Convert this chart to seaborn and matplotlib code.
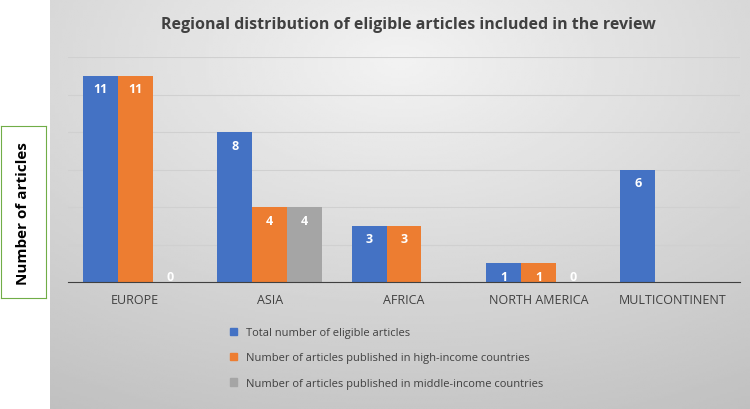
import numpy as np
import pandas as pd
import matplotlib
matplotlib.use('Agg')
import matplotlib.pyplot as plt
import seaborn as sns

regions = ['EUROPE', 'ASIA', 'AFRICA', 'NORTH AMERICA', 'MULTICONTINENT']
series = ['Total number of eligible articles',
          'Number of articles published in high-income countries',
          'Number of articles published in middle-income countries']
total = [11, 8, 3, 1, 6]
high = [11, 4, 3, 1, np.nan]
middle = [0, 4, np.nan, 0, np.nan]
colors = ['#4472c4', '#ed7d31', '#a5a5a5']

df = pd.DataFrame({
    'region': regions * 3,
    'series': sum([[s] * 5 for s in series], []),
    'value': total + high + middle,
})

plt.rcParams['font.family'] = 'Open Sans'
fig = plt.figure(figsize=(7.5, 4.1), dpi=100)

# gray gradient panel
bg = fig.add_axes([50 / 750, 0, 700 / 750, 1])
yy, xx = np.mgrid[0:1:200j, 0:1:200j]
d = np.sqrt((xx - 0.5) ** 2 + (yy - 0.15) ** 2)
bg.imshow(0.95 - 0.2 * d, cmap='gray', vmin=0, vmax=1, aspect='auto', extent=[0, 1, 0, 1])
bg.set_axis_off()

ax = fig.add_axes([68 / 750, 127 / 410, 672 / 750, 225 / 410])
ax.patch.set_alpha(0)
sns.barplot(data=df, x='region', y='value', hue='series', palette=colors,
            saturation=1, width=0.78, ax=ax, legend=False)
ax.set_ylim(0, 12)
ax.set_yticks(range(0, 13, 2))
ax.set_yticklabels([])
ax.tick_params(length=0)
ax.grid(axis='y', color='#d0d0d0', linewidth=0.8)
ax.set_axisbelow(True)
for s in ['top', 'right', 'left']:
    ax.spines[s].set_visible(False)
ax.spines['bottom'].set_color('#404040')
ax.set_xlabel('')
ax.set_ylabel('')
ax.tick_params(axis='x', labelsize=9, colors='#404040', pad=8)

for cont in ax.containers:
    for bar in cont:
        h = bar.get_height()
        if np.isnan(h):
            continue
        ax.text(bar.get_x() + bar.get_width() / 2, max(h - 0.35, 0.3), f'{int(h)}',
                ha='center', va='top' if h > 0 else 'center', color='white',
                fontsize=9, fontweight='bold')

fig.text(0.545, 0.94, 'Regional distribution of eligible articles included in the review',
         ha='center', va='center', fontsize=11.5, fontweight='bold', color='#404040')

lbox = fig.add_axes([0.001, 0.27, 0.06, 0.42])
lbox.set_xticks([]); lbox.set_yticks([])
for s in lbox.spines.values():
    s.set_color('#70ad47')
lbox.text(0.5, 0.5, 'Number of articles', rotation=90, ha='center', va='center',
          fontsize=11, fontweight='bold')

handles = [plt.Rectangle((0, 0), 1, 1, color=c) for c in colors]
fig.legend(handles, series, loc='upper left', bbox_to_anchor=(220 / 750, 1 - 318 / 410),
           frameon=False, fontsize=8, labelcolor='#404040', handlelength=0.6,
           handleheight=0.6, labelspacing=1.3)

fig.savefig('out.png', dpi=100)
